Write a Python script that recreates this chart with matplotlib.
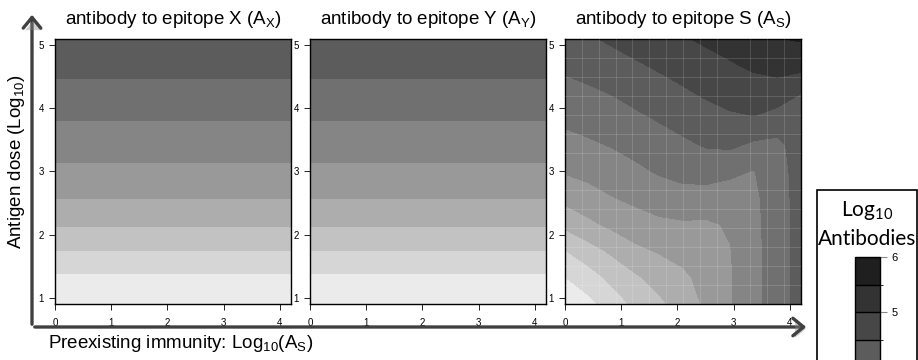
import numpy as np
import matplotlib.pyplot as plt
import matplotlib.patheffects as pe
from matplotlib.colors import ListedColormap, BoundaryNorm
from matplotlib.patches import FancyArrowPatch, Rectangle

plt.rcParams['font.family'] = ['Liberation Sans', 'DejaVu Sans']
plt.rcParams['mathtext.default'] = 'regular'

# epitopes X and Y: response only depends on antigen dose
dose_xy = [0.9, 1.37, 1.74, 2.12, 2.56, 3.13, 3.80, 4.46, 5.1]
log_ab_xy = [0.6, 1.0, 1.5, 2.0, 2.5, 3.0, 3.5, 4.0, 4.45]
preexist_xy = [0.0, 4.2]

# epitope S: grid (rows = dose, cols = preexisting immunity)
preexist_s = [0.0, 0.42, 0.84, 1.26, 1.68, 2.1, 2.52, 2.94, 3.36, 3.78, 4.2]
dose_s = [0.9, 1.32, 1.74, 2.16, 2.58, 3.0, 3.42, 3.84, 4.26, 4.68, 5.1]
log_ab_s = [
    [0.55, 0.86, 1.25, 1.61, 1.90, 2.23, 2.59, 2.96, 3.35, 3.75, 4.20],
    [0.99, 1.28, 1.63, 1.93, 2.19, 2.41, 2.66, 2.96, 3.35, 3.75, 4.20],
    [1.48, 1.79, 2.09, 2.39, 2.54, 2.65, 2.82, 2.98, 3.36, 3.75, 4.20],
    [2.12, 2.39, 2.61, 2.78, 2.90, 2.94, 2.93, 3.05, 3.37, 3.76, 4.20],
    [2.64, 2.81, 2.98, 3.11, 3.23, 3.32, 3.30, 3.33, 3.40, 3.77, 4.20],
    [3.04, 3.14, 3.26, 3.40, 3.55, 3.65, 3.69, 3.57, 3.48, 3.80, 4.21],
    [3.33, 3.43, 3.53, 3.66, 3.79, 3.91, 4.04, 4.09, 3.91, 3.88, 4.23],
    [3.60, 3.68, 3.78, 3.91, 4.04, 4.18, 4.31, 4.42, 4.47, 4.28, 4.32],
    [3.84, 3.93, 4.03, 4.17, 4.30, 4.44, 4.58, 4.69, 4.78, 4.80, 4.51],
    [4.09, 4.18, 4.30, 4.44, 4.57, 4.70, 4.83, 4.95, 5.08, 5.16, 5.17],
    [4.33, 4.44, 4.58, 4.71, 4.84, 4.96, 5.08, 5.20, 5.35, 5.48, 5.54],
]

levels = np.arange(0.5, 6.01, 0.5)
greys = [str(g) for g in np.linspace(0.92, 0.12, len(levels) - 1)]
cmap = ListedColormap(greys)
norm = BoundaryNorm(levels, cmap.N)

titles = ['antibody to epitope X ($A_X$)',
          'antibody to epitope Y ($A_Y$)',
          'antibody to epitope S ($A_S$)']

W, H = 918, 360
fig = plt.figure(figsize=(W / 100, H / 100), dpi=100)

lefts = [55, 310, 565]
for i, left in enumerate(lefts):
    ax = fig.add_axes([left / W, 1 - 304 / H, 236 / W, 265 / H])
    if i < 2:
        Z = np.tile(np.array(log_ab_xy)[:, None], (1, 2))
        ax.contourf(preexist_xy, dose_xy, Z, levels=levels, cmap=cmap, norm=norm)
    else:
        ax.contourf(preexist_s, dose_s, np.array(log_ab_s), levels=levels,
                    cmap=cmap, norm=norm)
        # faint seams like the original rendering
        ax.set_xticks(np.arange(0.3, 4.2, 0.3), minor=True)
        ax.set_yticks(np.arange(1.2, 5.1, 0.3), minor=True)
        ax.grid(which='minor', color='white', alpha=0.17, lw=0.6)
        ax.set_axisbelow(False)
        ax.tick_params(which='minor', length=0)
    ax.set_xlim(0, 4.2)
    ax.set_ylim(0.9, 5.1)
    ax.set_xticks([0, 1, 2, 3, 4])
    ax.set_yticks([1, 2, 3, 4, 5])
    ax.tick_params(axis='x', labelsize=7, length=4, width=0.6, pad=6)
    ax.tick_params(axis='y', labelsize=7, length=4, width=0.6, pad=4)
    for s in ax.spines.values():
        s.set_linewidth(1.0)
    ax.text(0.5, 1.075, titles[i], transform=ax.transAxes, ha='center',
            va='center', fontsize=13.5)

# axis arrows around the panels
shadow = [pe.withSimplePatchShadow(offset=(1.5, -1.5), shadow_rgbFace='#888888', alpha=0.4)]
corner = (32 / W, 1 - 327 / H)
for tip in [(32 / W, 1 - 12 / H), (809 / W, 1 - 327 / H)]:
    arr = FancyArrowPatch(corner, tip, transform=fig.transFigure,
                          arrowstyle='->,head_length=0.55,head_width=0.45',
                          mutation_scale=14, lw=2.4, color='#404040',
                          path_effects=shadow)
    fig.add_artist(arr)

fig.text(17 / W, 1 - 162 / H, 'Antigen dose (Log$_{10}$)', rotation=90,
         ha='center', va='center', fontsize=13.5)
fig.text(48 / W, 1 - 344 / H, 'Preexisting immunity: Log$_{10}$(A$_S$)',
         ha='left', va='center', fontsize=13.5)

# legend box with the colour scale
box = Rectangle((817 / W, -0.2), 100 / W, 1 - 190 / H + 0.2, transform=fig.transFigure,
                facecolor='white', edgecolor='black', lw=1.2, zorder=-1)
fig.add_artist(box)
fig.text(867 / W, 1 - 211 / H, 'Log$_{10}$', ha='center', va='center',
         fontsize=15, family=['Lato', 'DejaVu Sans'])
fig.text(867 / W, 1 - 239 / H, 'Antibodies', ha='center', va='center',
         fontsize=15, family=['Lato', 'DejaVu Sans'])

unit = 55
cax = fig.add_axes([855 / W, 1 - (257 + 5.5 * unit) / H, 25 / W, 5.5 * unit / H])
sm = plt.cm.ScalarMappable(norm=norm, cmap=cmap)
cb = fig.colorbar(sm, cax=cax, boundaries=levels, drawedges=True)
cb.set_ticks([5, 6])
cb.outline.set_linewidth(1.0)
cb.dividers.set_linewidth(1.0)
cb.dividers.set_color('black')
cax.tick_params(labelsize=8, length=5, width=0.8, color='#888888', pad=3)

fig.savefig('out.png', dpi=100)
